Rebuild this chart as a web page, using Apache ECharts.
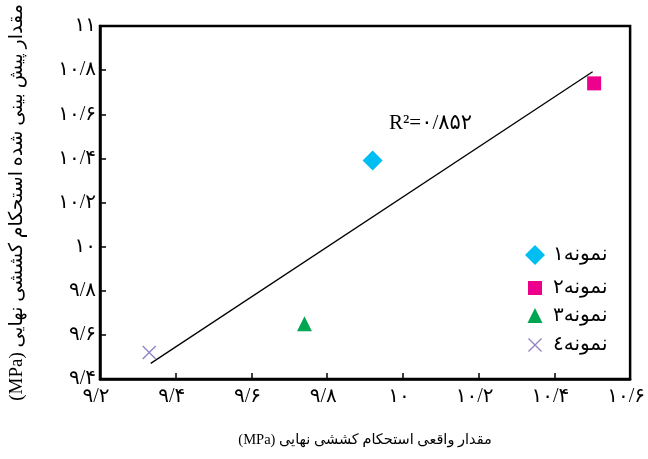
<!DOCTYPE html>
<html><head><meta charset="utf-8">
<script src="https://cdn.jsdelivr.net/npm/echarts@6/dist/echarts.min.js"></script>
<style>html,body{margin:0;padding:0;background:#fff}#c{width:648px;height:459px}</style>
</head><body>
<div id="c" dir="rtl"></div>
<script>
const xTickLabels = ['۹/۲','۹/۴','۹/۶','۹/۸','۱۰','۱۰/۲','۱۰/۴','۱۰/۶'];
const yTickLabels = ['۹/۴','۹/۶','۹/۸','۱۰','۱۰/۲','۱۰/۴','۱۰/۶','۱۰/۸','۱۱'];
const seriesNames = ['نمونه۱','نمونه۲','نمونه۳','نمونه٤'];
const actualValues = [9.92, 10.505, 9.74, 9.33];
const predictedValues = [10.39, 10.74, 9.65, 9.52];
const fitLineX = [9.334, 10.501];
const fitLineY = [9.471, 10.793];
const rSquaredText = 'R²=۰/۸۵۲';
const xAxisTitle = 'مقدار واقعی استحکام کششی نهایی (MPa)';
const yAxisTitle = 'مقدار پیش بینی شده استحکام کششی نهایی (MPa)';

const X_MIN = 9.2, X_MAX = 10.6, Y_MIN = 9.4, Y_MAX = 11, STEP = 0.2;
const fontFamily = "'Liberation Serif','DejaVu Sans',serif";
const symbols = ['diamond','rect','triangle','path://M0,0.7 L0.7,0 L10,9.3 L9.3,10 Z M9.3,0 L10,0.7 L0.7,10 L0,9.3 Z'];
const sizes = [20, 14, 15, 14];
const colors = ['#00BDF2','#EC008C','#00A651','#9284C4'];
const legendRowY = [255, 285, 313, 342];
const legendIconCx = 535, legendTextX = 553;

const chart = echarts.init(document.getElementById('c'));

const scatterSeries = seriesNames.map((n, i) => ({
  name: n, type: 'scatter',
  data: [[actualValues[i], predictedValues[i]]],
  symbol: symbols[i], symbolSize: sizes[i],
  itemStyle: { color: colors[i], opacity: 1 },
  z: 3
}));

const legends = seriesNames.map((n, i) => ({
  data: [{ name: n, icon: symbols[i] }],
  orient: 'vertical',
  left: legendIconCx - sizes[i] / 2,
  top: legendRowY[i] - sizes[i] / 2,
  itemWidth: sizes[i], itemHeight: sizes[i],
  padding: 0, itemGap: 0, selectedMode: false,
  textStyle: { fontSize: 20, color: '#000', fontFamily,
    padding: [0, 0, 0, legendTextX - (legendIconCx + sizes[i] / 2) - 5] }
}));

chart.setOption({
  animation: false,
  backgroundColor: '#fff',
  grid: { left: 95, right: 16, top: 26, bottom: 80, show: true,
    borderColor: '#000', borderWidth: 2.5, backgroundColor: 'transparent' },
  legend: legends,
  xAxis: {
    type: 'value', min: X_MIN, max: X_MAX, interval: STEP,
    axisLine: { show: true, onZero: false, lineStyle: { color: '#000', width: 2.5 } },
    axisTick: { show: true, inside: true, length: 6, lineStyle: { color: '#000', width: 1.5 } },
    splitLine: { show: false },
    axisLabel: { fontSize: 20, color: '#000', fontFamily, margin: 8, padding: [0, 8, 0, 0],
      formatter: v => xTickLabels[Math.round((v - X_MIN) / STEP)] },
    name: xAxisTitle, nameLocation: 'middle', nameGap: 54,
    nameTextStyle: { fontSize: 14.5, color: '#000', fontFamily }
  },
  yAxis: {
    type: 'value', min: Y_MIN, max: Y_MAX, interval: STEP,
    axisLine: { show: true, onZero: false, lineStyle: { color: '#000', width: 2.5 } },
    axisTick: { show: true, inside: true, length: 6, lineStyle: { color: '#000', width: 1.5 } },
    splitLine: { show: false },
    axisLabel: { fontSize: 20, color: '#000', fontFamily, margin: 4,
      formatter: v => yTickLabels[Math.round((v - Y_MIN) / STEP)] },
    name: yAxisTitle, nameLocation: 'middle', nameGap: 73,
    nameTextStyle: { fontSize: 19, color: '#000', fontFamily }
  },
  graphic: [{
    type: 'text', left: 389, top: 113,
    style: { text: rSquaredText, font: "21px 'Liberation Serif','DejaVu Sans',serif", fill: '#000' }
  }],
  series: [
    { type: 'line', name: 'fit', data: fitLineX.map((x, i) => [x, fitLineY[i]]),
      symbol: 'none', silent: true, lineStyle: { color: '#000', width: 1.3 }, z: 2 }
  ].concat(scatterSeries)
});
</script>
</body></html>
